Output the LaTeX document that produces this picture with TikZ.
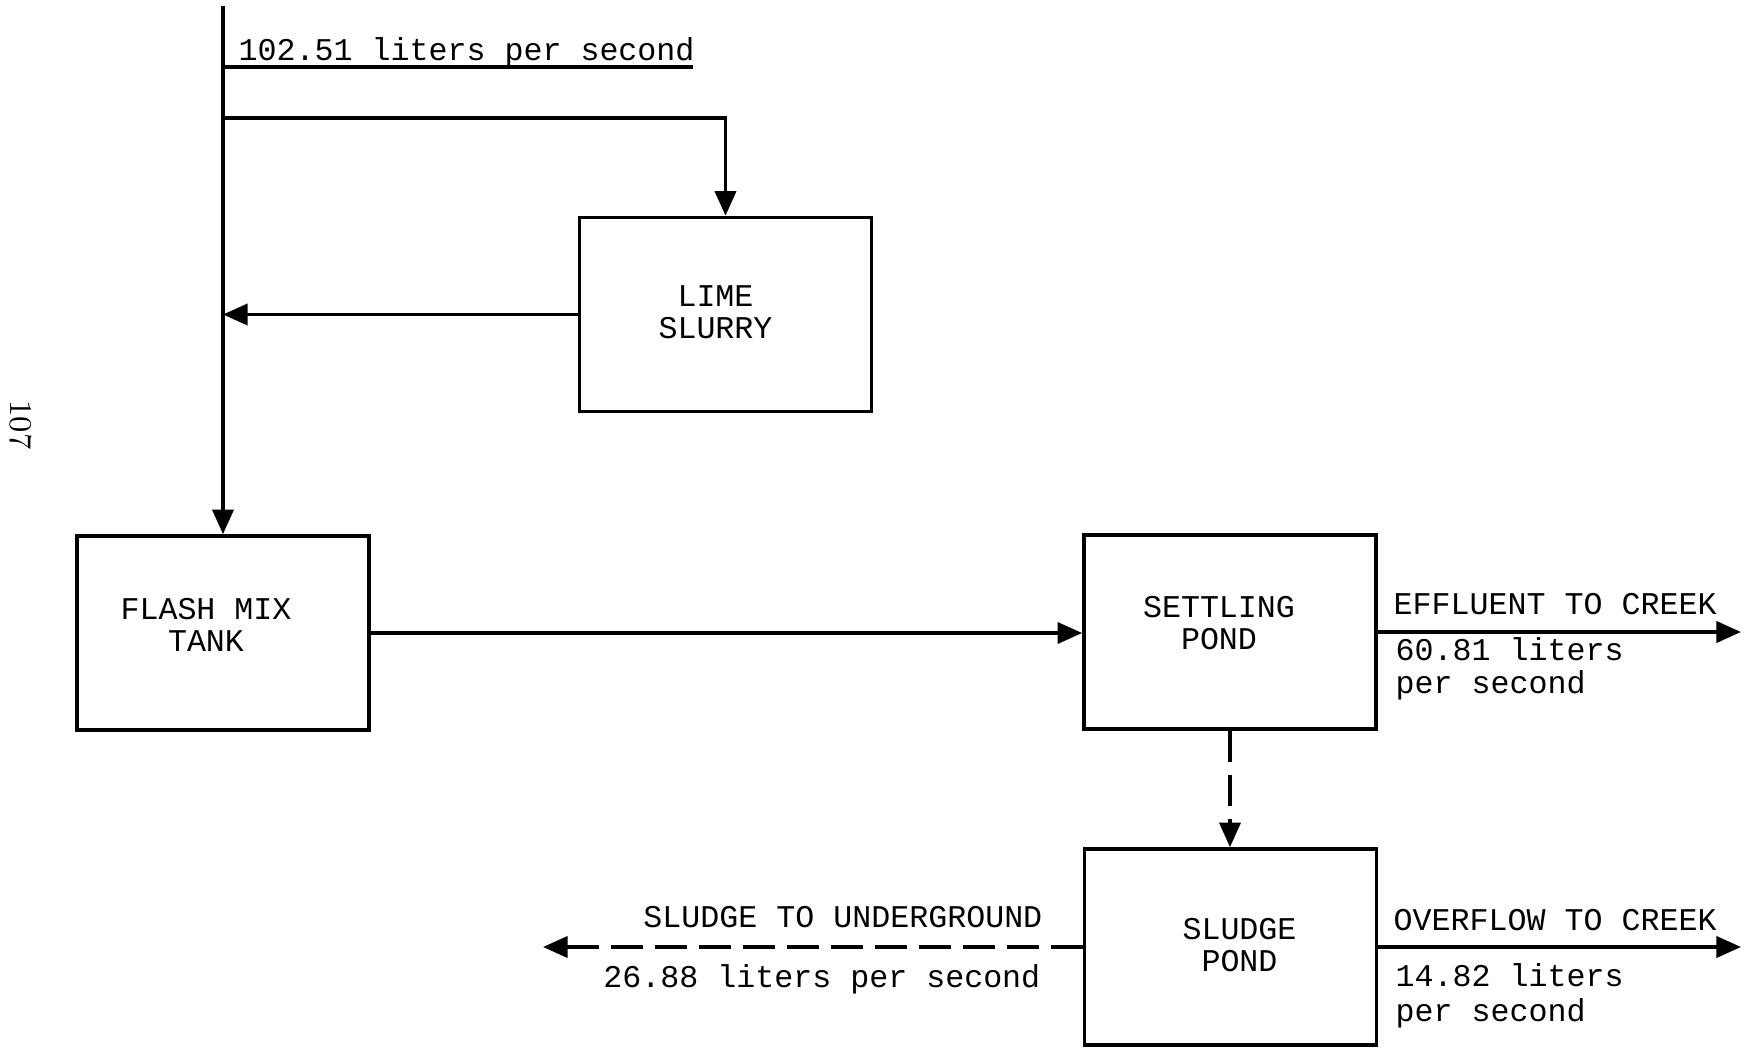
\documentclass[tikz,border=0pt]{standalone}
\usepackage{fontspec}
\setmonofont{Liberation Mono}
\usetikzlibrary{arrows.meta,positioning}

\begin{document}
\begin{tikzpicture}[
  x=0.01cm,y=-0.01cm,
  box/.style={draw,line width=1pt,minimum width=2.92cm,minimum height=1.94cm},
  boxtext/.style={align=center,inner sep=0pt,font=\ttfamily\fontsize{9}{9}\selectfont},
  arrow/.style={-{Triangle[length=7pt,width=6pt]},line width=1pt},
  flowline/.style={line width=1pt},
  dashline/.style={arrow,dash pattern=on 9pt off 3.5pt},
  lbl/.style={font=\ttfamily\fontsize{9}{9.3}\selectfont,inner sep=0pt,align=left}
]
\useasboundingbox (0,0) rectangle (1750,1048);
% process units
\node[box] (lime) at (725.5,314.5) {};
\node[box] (flash) at (223,633) {};
\node[box] (settle) at (1230,632) {};
\node[box,minimum height=1.96cm] (sludge) at (1230.5,947) {};
\node[boxtext] (limetxt) at ([shift={(-10,-2)}]lime.center) {LIME\\SLURRY};
\node[boxtext] (flashtxt) at ([shift={(-17,-8)}]flash.center) {FLASH MIX\\TANK};
\node[boxtext] (settletxt) at ([shift={(-11,-9)}]settle.center) {SETTLING\\POND};
\node[boxtext] (sludgetxt) at ([shift={(9,-2)}]sludge.center) {SLUDGE\\POND};
% free ends of the flows
\coordinate (inlet) at (223,6);
\coordinate (split) at (223,118);
\coordinate (ulstart) at (223,67);
\coordinate (ulend) at (693,67);
\coordinate (creekA) at (1741,632);
\coordinate (creekB) at (1741,947);
\coordinate (underground) at (543,947);
% flows
\draw[arrow] (inlet) -- (flash.north);
\draw[flowline] (ulstart) -- (ulend);
\draw[arrow] (split) -| (lime.north);
\draw[arrow] (lime.west) -- (lime.west -| inlet);
\draw[arrow] (flash.east) -- (flash.east -| settle.west);
\draw[arrow] (settle.east) -- (creekA);
\draw[dashline] (settle.south) -- (settle.south |- sludge.north);
\draw[dashline] (sludge.west) -- (underground);
\draw[arrow] (sludge.east) -- (creekB);
% flow rates
\node[lbl,anchor=base west] (inflow) at (238,60) {102.51 liters per second};
\node[lbl,anchor=base west] (effluent) at (1393,614) {EFFLUENT TO CREEK};
\node[lbl,anchor=north west] (effrate) at (1395,637) {60.81 liters\\per second};
\node[lbl,anchor=base east] (sludgeout) at (1043,927) {SLUDGE TO UNDERGROUND};
\node[lbl,anchor=north east] (sludgerate) at (1041,964) {26.88 liters per second};
\node[lbl,anchor=base west] (overflow) at (1393,930) {OVERFLOW TO CREEK};
\node[lbl,anchor=north west,font=\ttfamily\fontsize{9}{9.8}\selectfont] (overrate) at (1395,963) {14.82 liters\\per second};
% page number
\node[rotate=-90,font=\fontsize{9}{11}\selectfont] (page) at (21,425) {107};
\end{tikzpicture}
\end{document}
